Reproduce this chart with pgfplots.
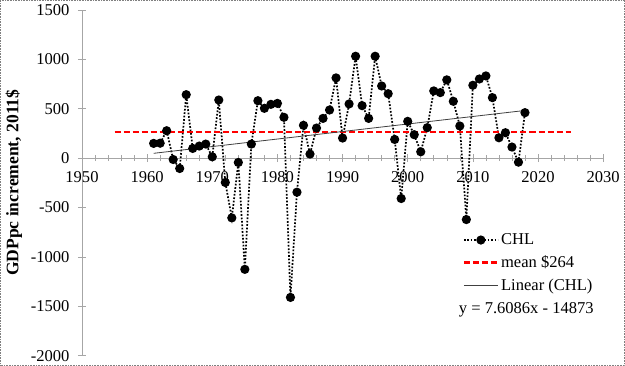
\documentclass[border=0pt]{standalone}
\usepackage{fontspec}
\setmainfont{Liberation Serif}
\usepackage{pgfplots}
\pgfplotsset{compat=1.18}
\begin{document}
\begin{tikzpicture}
\begin{axis}[
  scale only axis,
  width=520bp, height=345bp,
  xmin=1950, xmax=2030, ymin=-2000, ymax=1500,
  axis x line*=middle, axis y line*=left,
  hide obscured x ticks=false, hide obscured y ticks=false,
  axis line style={gray!70, line width=0.8bp},
  tick style={gray!70, line width=0.6bp},
  major tick length=8bp, minor tick length=6bp,
  tick align=center,
  xtick={1950,1960,...,2030},
  xticklabels={1950,1960,1970,1980,1990,2000,2010,2020,2030},
  minor x tick num=4,
  ytick={-2000,-1500,...,1500},
  yticklabels={-2000,-1500,-1000,-500,0,500,1000,1500},
  tick label style={font=\fontsize{16.5bp}{19bp}\selectfont, black},
  x tick label style={yshift=-6bp},
  y tick label style={xshift=-5bp},
  legend style={at={(axis cs:2008.4,-745)}, anchor=north west, draw=none, fill=none,
    font=\fontsize{16.5bp}{19bp}\selectfont, row sep=5.5bp, inner sep=0pt},
  legend cell align=left,
  legend image code/.code={\draw[mark repeat=2,mark phase=2,#1] plot coordinates {(0bp,0bp) (17bp,0bp) (34bp,0bp)};},
  clip=false,
]
\addplot[black, dash pattern=on 1.7bp off 1.7bp, line width=1.7bp, mark=*, mark size=3.7bp, mark options={solid, fill=black}] coordinates {
(1961,148) (1962,150) (1963,276) (1964,-15) (1965,-106) (1966,641) (1967,97) (1968,121) (1969,141) (1970,12)
(1971,587) (1972,-248) (1973,-606) (1974,-45) (1975,-1127) (1976,141) (1977,580) (1978,503) (1979,543) (1980,553)
(1981,412) (1982,-1411) (1983,-346) (1984,331) (1985,40) (1986,303) (1987,401) (1988,486) (1989,811) (1990,202)
(1991,547) (1992,1030) (1993,530) (1994,401) (1995,1030) (1996,729) (1997,651) (1998,188) (1999,-410) (2000,371)
(2001,236) (2002,63) (2003,307) (2004,679) (2005,662) (2006,791) (2007,574) (2008,324) (2009,-623) (2010,736)
(2011,800) (2012,831) (2013,611) (2014,205) (2015,256) (2016,111) (2017,-42) (2018,459)
};
\addlegendentry{CHL}
\addplot[red, dash pattern=on 6bp off 3bp, line width=2.4bp] coordinates {(1955,264) (2025,264)};
\addlegendentry{mean \$264}
\addplot[black!75, line width=0.8bp] coordinates {(1961,47.5) (2018,481.2)};
\addlegendentry{Linear (CHL)}
\node[font=\fontsize{16.5bp}{19bp}\selectfont, anchor=center] at (axis cs:2018.2,-1535) {y = 7.6086x - 14873};
\end{axis}
\node[rotate=90, anchor=center, font=\fontsize{17.5bp}{20bp}\selectfont\bfseries] at ([xshift=-68bp]current axis.west) {GDPpc increment, 2011\$};
\draw[densely dotted, gray, line width=0.6bp] ([shift={(-81.5bp,-9.5bp)}]current axis.south west) rectangle ([shift={(21.5bp,9.5bp)}]current axis.north east);
\end{tikzpicture}
\end{document}
